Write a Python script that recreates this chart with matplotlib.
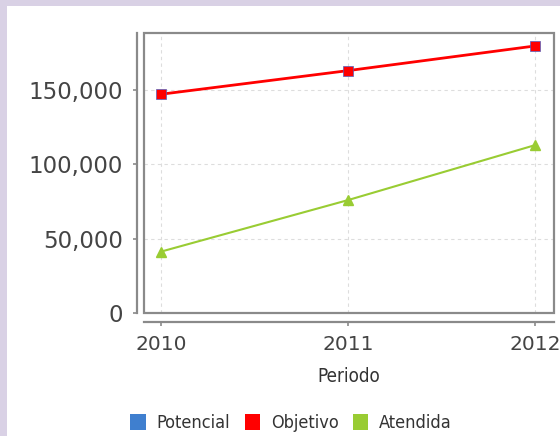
import matplotlib
matplotlib.use("Agg")
import matplotlib.pyplot as plt
from matplotlib.patches import Rectangle, Patch
from matplotlib.ticker import FuncFormatter

# data
years = [2010, 2011, 2012]
objetivo = [147200, 163100, 179700]
atendida = [41300, 76000, 113000]
series_names = ["Potencial", "Objetivo", "Atendida"]
series_colors = ["#3f7fcf", "#ff0000", "#99cc33"]

BG = "#d9d1e5"
AX_GRAY = "#8a8a8a"
TXT = "#444444"
NARROW = {"family": "DejaVu Sans", "stretch": "condensed"}

fig = plt.figure(figsize=(5.6, 4.36), dpi=100)
fig.patch.set_facecolor(BG)
# white panel inside the lavender frame
fig.patches.append(Rectangle((7 / 560, 0), 1, 1 - 6 / 436, transform=fig.transFigure,
                             facecolor="white", edgecolor="none", zorder=-10))

ax = fig.add_axes([144 / 560, 1 - 313 / 436, 410 / 560, 280 / 436])
ax.set_facecolor("white")

ax.plot(years, objetivo, color=series_colors[1], lw=2.0, marker="s", ms=6.5,
        mec="#5060c0", mew=0.5, zorder=4)
ax.plot(years, atendida, color=series_colors[2], lw=1.5, marker="^", ms=7.5,
        mec=series_colors[2], zorder=4)

ax.set_xlim(2009.909, 2012.10)
ax.set_ylim(0, 188400)
ax.set_xticks(years)
ax.set_yticks([0, 50000, 100000, 150000])
ax.yaxis.set_major_formatter(FuncFormatter(lambda v, p: f"{int(v):,}"))

ax.grid(True, color="#dddddd", ls=(0, (3, 3)), lw=0.8)
ax.set_axisbelow(True)

# box around plot area plus offset axis lines
ax.add_patch(Rectangle((0, 0), 1, 1, transform=ax.transAxes, fill=False,
                       edgecolor=AX_GRAY, lw=1.6, clip_on=False, zorder=5))
for side in ("top", "right"):
    ax.spines[side].set_visible(False)
ax.spines["left"].set_position(("outward", 5))
ax.spines["bottom"].set_position(("outward", 6.5))
for side in ("left", "bottom"):
    ax.spines[side].set_color(AX_GRAY)
    ax.spines[side].set_linewidth(1.6)

ax.tick_params(axis="both", colors=AX_GRAY, length=3, width=1.2, labelcolor=TXT)
ax.tick_params(axis="y", labelsize=16.5, pad=7)
ax.tick_params(axis="x", labelsize=14.5, pad=6)

ax.set_xlabel("Periodo", fontsize=13.5, color="#333333", labelpad=10, **NARROW)

handles = [Patch(facecolor=c, edgecolor="none") for c in series_colors]
fig.legend(handles, series_names, loc="center", bbox_to_anchor=(0.52, 1 - 423 / 436),
           ncol=3, frameon=False, handlelength=0.85, handleheight=1.05,
           handletextpad=0.6, columnspacing=0.8,
           prop={**NARROW, "size": 13}, labelcolor="#333333")

fig.savefig("out.png", dpi=100, facecolor=BG)
